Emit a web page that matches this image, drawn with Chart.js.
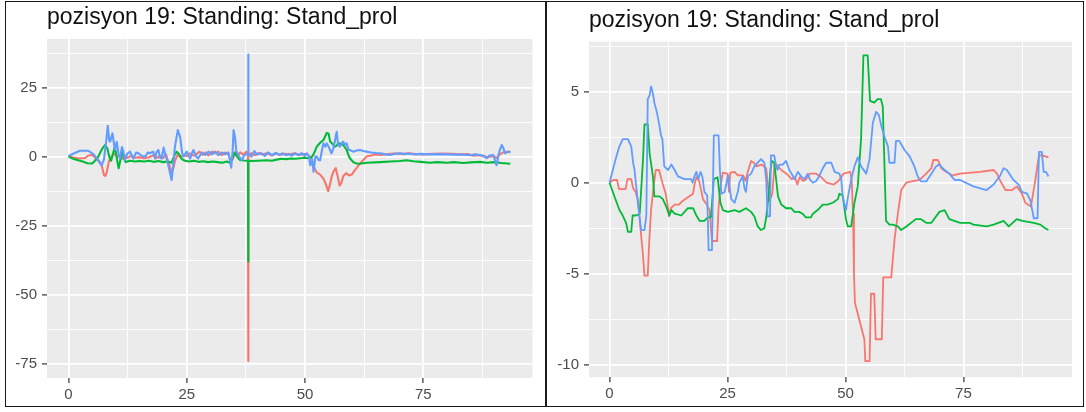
<!DOCTYPE html>
<html>
<head>
<meta charset="utf-8">
<script src="https://cdn.jsdelivr.net/npm/chart.js@4.4.1/dist/chart.umd.min.js"></script>
<style>
  html, body { margin: 0; padding: 0; background: #ffffff; }
  body { width: 1086px; height: 412px; position: relative; overflow: hidden; }
  canvas { position: absolute; top: 0; }
  .frame { position: absolute; box-sizing: border-box; border: 1.5px solid #1b1b1b; }
</style>
</head>
<body>
<canvas id="rawChart" width="545" height="412" style="left:0;width:545px;height:412px"></canvas>
<canvas id="smoothChart" width="541" height="412" style="left:545px;width:541px;height:412px"></canvas>
<div class="frame" style="left:5px;top:1px;width:542px;height:406px"></div>
<div class="frame" style="left:545px;top:1px;width:539px;height:406px"></div>
<script>
// ---- titles and axis breaks ----
const chartTitle = 'pozisyon 19: Standing: Stand_prol';
const xBreaks = [0, 12.5, 25, 37.5, 50, 62.5, 75, 87.5];
const xLabels = [0, 25, 50, 75];
const rawYBreaks = [-75, -62.5, -50, -37.5, -25, -12.5, 0, 12.5, 25, 37.5];
const rawYLabels = [-75, -50, -25, 0, 25];
const smoothYBreaks = [-10, -7.5, -5, -2.5, 0, 2.5, 5, 7.5];
const smoothYLabels = [-10, -5, 0, 5];

// ---- raw signal, [time, value] ----
const rawRed = [[0,0.2],[1.0,-0.3],[2.4,-0.7],[3.5,-0.5],[4.2,0.4],[5.0,0.6],[5.6,-0.3],[6.3,-1.5],[7.0,-3.1],[7.5,-6.7],[7.8,-7.0],[8.1,-5.5],[8.5,-2.0],[8.8,-0.5],[9.3,0.3],[9.8,1.0],[10.3,0],[10.8,0.4],[11.3,-0.8],[11.9,0.3],[12.5,-0.5],[13.2,0.3],[14.0,-0.4],[15.0,-0.2],[16.0,-0.6],[17.0,-0.2],[18.0,0.5],[18.6,-0.5],[19.3,0.2],[20.0,-0.5],[20.6,0.8],[21.1,-2.0],[21.8,-5.5],[22.2,-4.0],[22.5,-1.5],[23.1,0.8],[23.6,-0.2],[24.3,0.5],[25.0,0.2],[25.7,1.2],[26.4,0.3],[27.0,0.8],[27.7,1.8],[28.4,0.6],[29.0,1.5],[29.6,0.4],[30.3,1.8],[31.0,1.2],[31.7,1.8],[32.4,0.5],[33.1,1.5],[33.8,0.8],[34.3,-1.5],[34.7,-1.0],[35.2,1.5],[35.7,0.5],[36.3,1.5],[37.0,0.6],[37.6,1.8],[37.95,0.8],[38.0,-74.0],[38.05,0.8],[38.6,1.2],[39.4,0.5],[40.2,1.3],[41.0,0.8],[42.0,1.2],[43.0,0.4],[44.0,1.2],[44.7,0.6],[45.8,1.0],[46.8,0.8],[47.8,1.2],[48.9,0.6],[50.0,1.0],[50.8,0.4],[51.4,-0.8],[51.8,-3.5],[52.5,-5.8],[53.2,-6.5],[53.9,-8.0],[54.4,-10.0],[54.9,-12.5],[55.3,-10.0],[55.6,-7.5],[56.0,-5.5],[56.5,-4.2],[56.9,-7.0],[57.3,-10.5],[57.7,-9.5],[58.1,-7.0],[58.7,-6.0],[59.3,-6.8],[59.9,-6.5],[60.5,-5.0],[61.0,-4.0],[61.6,-2.5],[62.3,-1.3],[63.0,0],[64.0,0.4],[65.0,0.8],[66.0,0.6],[67.5,0.9],[69.0,1.1],[70.5,1.0],[72.0,1.2],[73.5,0.9],[75.0,0.8],[77.0,1.0],[79.0,1.1],[81.0,1.0],[83.0,0.8],[84.5,0.9],[85.6,0.3],[87.0,0.5],[88.4,-0.3],[89.8,0.2],[90.5,-0.5],[91.2,0.8],[92.0,1.6],[93.4,1.8]];

const rawGreen = [[0,0],[1.0,-0.8],[2.0,-1.3],[3.0,-1.8],[4.0,-2.4],[5.0,-2.5],[5.6,-1.5],[6.2,-0.3],[7.0,2.5],[7.7,4.2],[8.2,3.0],[8.6,0.0],[9.0,-1.5],[9.4,1.0],[9.8,3.6],[10.2,-0.5],[10.6,-4.2],[11.0,-1.0],[11.3,2.0],[11.7,-0.5],[12.1,-2.0],[13.0,-1.5],[14.0,-1.8],[15.0,-1.6],[16.0,-1.8],[17.0,-1.5],[18.0,-1.9],[19.0,-1.6],[20.0,-2.0],[21.0,-1.8],[21.8,-2.2],[22.4,0.5],[22.8,1.8],[23.3,1.0],[23.9,-0.8],[24.6,-1.5],[25.5,-1.8],[26.5,-1.5],[27.5,-1.9],[28.5,-1.7],[29.5,-2.0],[30.5,-1.8],[31.5,-2.0],[32.5,-2.2],[33.5,-1.8],[34.2,-2.3],[34.7,-0.5],[35.1,1.5],[35.6,0.0],[36.2,-1.2],[37.0,-1.4],[37.95,-1.5],[38.0,-38.0],[38.05,-1.5],[39.0,-1.6],[40.0,-1.5],[41.0,-1.4],[42.0,-1.3],[43.0,-1.5],[44.0,-1.1],[45.0,-0.8],[46.0,-0.9],[47.0,-0.7],[48.0,-0.8],[49.0,-0.6],[50.0,-0.4],[50.8,-0.6],[51.4,-0.2],[51.8,0.8],[52.5,3.6],[53.2,5.0],[53.9,6.0],[54.6,8.6],[55.0,8.3],[55.3,5.5],[55.7,4.8],[56.3,3.6],[56.7,4.0],[57.0,4.8],[57.7,4.6],[58.1,4.2],[58.8,2.4],[59.2,0.5],[59.5,-0.6],[60.2,-2.0],[60.9,-2.5],[61.6,-2.6],[63.0,-2.2],[65.9,-2.0],[68.0,-1.8],[70.1,-1.6],[71.5,-1.3],[72.9,-1.7],[74.5,-1.9],[76.4,-2.2],[78.0,-2.0],[80.0,-2.2],[81.5,-2.0],[83.5,-2.3],[85.0,-2.1],[87.0,-1.9],[88.5,-2.2],[90.0,-2.0],[91.5,-2.3],[93.4,-2.6]];

const rawBlue = [[0,0.2],[1.2,1.2],[2.4,2.1],[4.2,2.1],[5.2,1.0],[6.2,-1.0],[7.0,-3.1],[7.5,-1.0],[8.0,6.0],[8.3,11.2],[8.6,6.0],[8.8,5.4],[9.3,8.4],[9.8,2.4],[10.2,5.4],[10.6,0.5],[10.9,-0.7],[11.3,3.5],[11.6,1.8],[11.9,-1.3],[12.4,1.0],[13.0,1.8],[13.7,-0.7],[14.3,1.5],[14.8,1.2],[15.5,0.2],[16.2,0],[16.8,1.5],[17.2,1.2],[17.9,1.8],[18.3,-0.7],[18.6,1.6],[19.0,2.4],[19.4,-0.5],[19.7,-0.7],[20.1,3.3],[20.4,1.2],[20.8,-1.0],[21.1,-3.1],[21.8,-8.5],[22.2,-2.0],[22.5,3.6],[23.1,9.6],[23.6,7.2],[24.0,1.5],[24.3,0],[25.0,1.8],[25.4,0.3],[25.7,-0.7],[26.4,2.4],[27.0,0],[27.4,-0.7],[28.2,1.5],[28.9,0.6],[29.6,1.8],[30.3,0.8],[31.0,1.8],[31.7,0.5],[32.4,1.5],[33.1,0.8],[33.8,1.5],[34.1,-1.0],[34.4,-4.0],[34.7,2.0],[34.9,9.6],[35.2,7.0],[35.5,1.8],[36.0,0.3],[36.6,-1.3],[37.2,0.6],[37.9,1.0],[37.95,1.0],[38.0,37.0],[38.05,1.0],[38.7,0],[39.3,2.0],[39.8,0.8],[40.8,1.2],[41.5,0.2],[42.2,1.5],[43.0,0.5],[43.8,1.3],[44.5,0.6],[45.3,1.2],[46.0,0.4],[46.5,1.0],[47.2,0.3],[47.9,1.2],[48.6,0.5],[49.3,1.3],[49.9,0.2],[50.4,1.2],[50.8,0.3],[51.1,-3.1],[51.5,-1.0],[51.8,-5.5],[52.2,0],[52.5,0],[52.9,-1.3],[53.2,-1.3],[53.6,2.4],[53.9,4.8],[54.3,3.6],[54.6,4.8],[55.0,3.6],[55.3,2.4],[55.6,1.2],[56.0,3.0],[56.3,5.5],[56.7,9.0],[57.0,4.2],[57.4,3.6],[57.8,5.0],[58.1,5.4],[58.4,4.2],[58.8,4.8],[59.2,2.4],[59.5,2.4],[60.2,1.8],[60.9,2.2],[61.6,2.4],[62.3,2.0],[63.0,1.8],[64.0,1.5],[65.0,1.3],[65.9,1.2],[67.0,0.8],[68.0,0.6],[69.0,1.0],[70.1,1.2],[71.0,0.9],[72.0,1.1],[73.0,0.8],[74.5,1.0],[76.4,0.8],[78.0,0.9],[80.0,0.8],[81.5,0.7],[83.5,0.7],[85.0,0.5],[86.0,0.8],[87.0,0.6],[88.0,0.2],[88.4,-0.6],[89.0,0.4],[89.8,0.6],[90.2,-1.5],[90.5,-3.1],[90.9,0.5],[91.2,2.4],[91.6,4.2],[92.0,2.8],[92.3,1.2],[93.0,1.8],[93.4,1.5]];

// ---- smoothed signal, [time, value] ----
const smoothRed = [[0,0],[0.8,0.15],[1.6,0.15],[2.0,-0.35],[3.4,-0.35],[3.8,0.2],[4.6,0.2],[5.0,-0.3],[5.5,-0.5],[6.0,-0.9],[6.7,-2.9],[7.1,-4.0],[7.4,-5.1],[8.1,-5.1],[8.4,-3.3],[8.8,-1.5],[9.3,-0.3],[9.8,0.7],[10.5,0.7],[11.2,0],[11.9,-0.6],[12.3,-1.2],[12.6,-1.85],[13.0,-1.4],[13.8,-1.2],[14.7,-1.2],[15.5,-1.0],[16.6,-0.8],[17.7,-0.6],[18.0,-0.1],[18.4,0.3],[19.0,0.1],[19.8,-0.9],[20.6,-1.2],[21.2,-1.5],[21.7,-3.2],[22.8,-3.2],[23.1,-1.4],[23.5,-0.2],[24.0,0.55],[25.0,0.5],[25.3,-0.5],[25.6,0.55],[26.5,0.6],[27.2,0.4],[28.3,0.4],[28.8,0.1],[29.3,0.6],[30.0,1.2],[30.6,1.1],[31.1,0.9],[32.2,1.0],[33.2,0.8],[33.9,-1.0],[34.5,-0.6],[35.0,1.1],[35.7,0.9],[36.4,0.7],[37.5,0.5],[38.6,0.2],[39.3,0.3],[39.8,-0.1],[40.3,0.3],[41.0,0.1],[41.7,0.2],[42.4,0.5],[43.8,0.5],[44.9,0.3],[46.0,0],[47.5,-0.1],[48.5,0.1],[49.6,0.5],[51.0,0.6],[51.3,0.2],[51.6,-1.7],[51.8,-5.0],[52.0,-6.6],[52.6,-7.2],[53.3,-7.9],[54.0,-8.6],[54.2,-9.8],[55.1,-9.8],[55.4,-6.1],[56.1,-6.1],[56.4,-8.6],[57.7,-8.6],[58.0,-5.2],[59.7,-5.2],[60.4,-3.1],[61.1,-1.7],[61.8,-0.4],[62.9,0],[64.0,0.07],[65.7,0.16],[67.1,0.5],[68.2,0.8],[68.6,1.25],[69.6,1.25],[70.3,0.8],[71.3,0.6],[72.7,0.4],[74.3,0.5],[78.5,0.6],[81.4,0.7],[82.1,0.5],[82.8,0.1],[83.9,-0.4],[85.3,-0.4],[86.3,-0.2],[87.4,-0.6],[88.1,-1.1],[89.3,-1.3],[90.2,0.1],[91.0,1.5],[91.7,1.5],[93.0,1.4]];

const smoothGreen = [[0,0],[1.1,-0.8],[2.1,-1.5],[2.8,-1.8],[3.5,-2.2],[3.9,-2.7],[4.6,-2.7],[4.9,-1.8],[5.6,-1.8],[6.4,-1.7],[7.1,1.3],[7.4,3.2],[8.1,3.2],[8.5,1.6],[9.2,0.35],[9.5,-0.75],[10.6,-0.75],[11.3,-0.9],[12.0,-1.3],[12.7,-1.8],[13.1,-1.5],[13.8,-1.7],[15.2,-1.8],[15.9,-1.6],[16.6,-1.4],[17.7,-1.4],[18.4,-1.8],[19.1,-2.1],[20.1,-2.1],[20.8,-1.9],[21.5,-1.9],[22.1,0.2],[22.9,0.3],[23.5,-1.1],[24.0,-1.5],[25.1,-1.6],[26.5,-1.5],[27.5,-1.6],[28.9,-1.4],[30.0,-1.6],[30.7,-1.85],[31.4,-2.4],[32.1,-2.6],[32.8,-2.5],[33.2,-1.9],[33.7,-0.75],[34.1,0.7],[34.4,1.2],[34.9,1.1],[35.3,0.2],[35.7,-0.75],[36.4,-1.2],[37.4,-1.4],[38.5,-1.4],[39.2,-1.6],[40.2,-1.6],[40.9,-1.7],[41.6,-1.9],[42.7,-1.9],[43.1,-1.7],[44.1,-1.5],[45.2,-1.2],[46.2,-1.2],[47.3,-1.1],[48.4,-0.9],[48.7,-0.6],[49.4,-0.7],[50.1,-2.0],[50.5,-2.4],[51.2,-2.4],[51.9,-1.1],[52.6,-0.2],[53.3,2.4],[53.8,7.0],[54.7,7.0],[55.2,4.5],[56.1,4.4],[56.8,4.6],[57.5,4.6],[57.9,4.2],[58.6,-2.1],[59.3,-2.3],[60.0,-2.3],[61.1,-2.4],[61.8,-2.6],[62.9,-2.4],[64.9,-2.0],[66.0,-2.0],[67.1,-2.2],[68.2,-2.2],[69.9,-1.6],[71.0,-1.5],[72.0,-2.0],[74.3,-2.2],[76.3,-2.2],[77.1,-2.3],[79.9,-2.4],[81.4,-2.3],[83.5,-2.1],[84.6,-2.4],[86.3,-2.0],[87.5,-2.1],[89.9,-2.2],[91.3,-2.3],[92.3,-2.5],[93.0,-2.6]];

const smoothBlue = [[0,0],[0.7,0.7],[1.4,1.4],[2.1,2.0],[2.8,2.4],[3.9,2.4],[4.6,2.0],[5.0,1.1],[5.3,0.7],[6.0,-1.1],[6.7,-2.6],[7.4,-2.6],[7.8,-1.8],[8.1,4.6],[8.5,4.8],[8.8,5.3],[9.2,4.9],[9.5,4.4],[10.1,3.8],[10.6,3.1],[10.9,2.6],[11.2,2.4],[11.6,0.9],[12.4,0.7],[13.1,1.0],[13.8,0.7],[14.5,0.35],[15.9,0.2],[17.3,0.2],[17.6,0],[18.0,0.35],[18.4,0.6],[18.8,0.2],[19.3,0.6],[19.7,0.3],[20.1,-0.5],[20.7,-0.7],[21.0,-3.7],[21.7,-3.7],[22.1,2.6],[23.1,2.6],[23.4,0.7],[23.7,-0.6],[24.4,-0.5],[25.1,0.4],[25.8,-0.9],[26.5,-1.1],[27.2,-0.5],[27.5,0],[28.2,0.35],[28.6,-0.3],[28.9,-0.5],[29.3,0.35],[30.0,0.5],[30.7,0.9],[31.4,1.1],[32.1,1.3],[32.8,1.1],[33.2,0.2],[33.5,-1.85],[34.0,-1.85],[34.2,1.5],[34.9,1.5],[35.3,0.9],[35.6,0.7],[36.0,1.0],[36.7,1.0],[37.4,1.2],[38.1,0.7],[38.8,0.4],[39.2,0.2],[39.9,0.6],[40.6,0.35],[41.3,0.2],[42.0,0.5],[42.4,0.2],[43.1,0],[43.8,0.1],[44.5,0.4],[45.2,0.8],[45.9,1.1],[47.0,1.1],[47.7,0.6],[48.7,0.5],[49.1,0.2],[49.4,-0.75],[50.1,-1.5],[50.5,-0.8],[51.2,0.16],[51.9,0.9],[52.6,1.4],[53.3,0.9],[54.4,0.5],[55.1,1.3],[55.8,3.3],[56.5,3.9],[57.1,3.7],[57.6,3.1],[58.3,2.5],[59.0,2.0],[59.3,1.1],[60.4,1.1],[60.7,2.3],[61.4,2.3],[62.5,1.8],[63.6,1.45],[64.6,0.9],[65.3,0.35],[66.0,0.07],[67.1,0.07],[68.2,0.5],[69.2,0.9],[69.9,1.0],[71.0,0.7],[72.0,0.5],[73.1,0.16],[74.3,0.15],[77.1,-0.2],[79.9,-0.4],[81.4,-0.1],[82.8,0.4],[83.5,0.8],[84.2,0.7],[85.6,0.15],[86.7,-0.1],[87.4,-0.5],[88.5,-0.6],[89.2,-1.0],[89.9,-1.95],[90.7,-1.95],[91.0,1.7],[91.6,1.7],[92.0,0.6],[92.5,0.6],[93.0,0.35]];

// ---- drawing helpers ----
const FONT = '"Liberation Sans", Arial, Helvetica, sans-serif';
const COLORS = { red: '#F8766D', green: '#00BA38', blue: '#619CFF' };

// grey panel behind the grid, and the title above it
const panelPlugin = {
  id: 'panelDecor',
  beforeDraw(chart) {
    const { ctx, chartArea: a } = chart;
    ctx.save();
    ctx.fillStyle = '#EBEBEB';
    ctx.fillRect(a.left, a.top, a.right - a.left, a.bottom - a.top);
    ctx.restore();
  },
  afterDraw(chart, args, opts) {
    const { ctx, chartArea: a } = chart;
    ctx.save();
    ctx.fillStyle = '#111111';
    ctx.font = '23px ' + FONT;
    ctx.textBaseline = 'alphabetic';
    ctx.textAlign = 'left';
    ctx.fillText(opts.text, a.left, opts.baseline);
    ctx.restore();
  }
};

function toPoints(pairs) { return pairs.map(([x, y]) => ({ x, y })); }

function line(pairs, color, order, width) {
  return {
    data: toPoints(pairs), borderColor: color, backgroundColor: color,
    borderWidth: width, pointRadius: 0, tension: 0, fill: false, order,
    borderJoinStyle: 'round'
  };
}

function axis(min, max, breaks, labels, size, horizontal) {
  const isMajor = c => c && c.tick && labels.includes(c.tick.value);
  return {
    type: 'linear', min, max,
    afterBuildTicks: s => { s.ticks = breaks.map(v => ({ value: v })); },
    afterFit: s => { if (horizontal) s.height = size; else s.width = size; },
    border: { display: false },
    grid: {
      color: '#FFFFFF',
      lineWidth: c => isMajor(c) ? 1.8 : 0.9,
      drawTicks: true, tickLength: 5,
      tickColor: c => isMajor(c) ? '#333333' : 'rgba(0,0,0,0)',
      tickWidth: 1.2
    },
    ticks: {
      autoSkip: false, maxRotation: 0, minRotation: 0, padding: horizontal ? 3 : 5,
      color: '#4D4D4D', font: { family: FONT, size: 15 },
      callback: v => labels.includes(v) ? String(v) : ''
    }
  };
}

function makeChart(id, series, width, area, xRange, yRange, yBreaks, yLabels, titleBaseline, canvasW) {
  return new Chart(document.getElementById(id), {
    type: 'line',
    data: { datasets: [
      line(series.red, COLORS.red, 3, width),
      line(series.green, COLORS.green, 2, width),
      line(series.blue, COLORS.blue, 1, width)
    ] },
    options: {
      responsive: false, animation: false, devicePixelRatio: 1,
      layout: { padding: { left: 0, top: area.top, right: canvasW - area.right, bottom: 0 } },
      scales: {
        x: axis(xRange[0], xRange[1], xBreaks, xLabels, 412 - area.bottom, true),
        y: axis(yRange[0], yRange[1], yBreaks, yLabels, area.left, false)
      },
      plugins: {
        legend: { display: false }, tooltip: { enabled: false },
        panelDecor: { text: chartTitle, baseline: titleBaseline }
      }
    },
    plugins: [panelPlugin]
  });
}

makeChart('rawChart', { red: rawRed, green: rawGreen, blue: rawBlue }, 2.1,
  { left: 47, right: 532.5, top: 39, bottom: 378 }, [-4.55, 98.1], [-80.2, 42.6],
  rawYBreaks, rawYLabels, 24, 545);

makeChart('smoothChart', { red: smoothRed, green: smoothGreen, blue: smoothBlue }, 1.8,
  { left: 44, right: 527, top: 41.7, bottom: 377.3 }, [-4.35, 98.0], [-10.69, 7.75],
  smoothYBreaks, smoothYLabels, 26.5, 541);
</script>
</body>
</html>
